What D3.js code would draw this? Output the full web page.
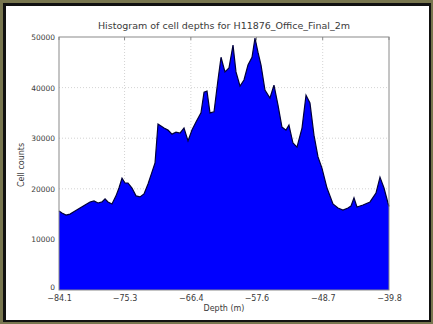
<!DOCTYPE html>
<meta charset="utf-8">
<style>
  body { margin: 0; background: #fff; }
  text { font-family: "DejaVu Sans", sans-serif; fill: #3a3a3a; }
</style>
<svg width="433" height="324"></svg>
<script src="https://cdn.jsdelivr.net/npm/d3@7"></script>
<script>

// depth (m) of each histogram point
var depths = [-84.1, -83.7, -83.16, -82.62, -81.95, -81.28, -80.61, -79.94, -79.4, -78.86,
  -78.33, -77.92, -77.52, -76.99, -76.45, -76.05, -75.64, -75.24, -74.84, -74.3,
  -73.76, -73.23, -72.69, -72.15, -71.62, -71.21, -70.81, -70.41, -70.0, -69.47,
  -68.93, -68.39, -67.86, -67.32, -66.78, -66.25, -65.71, -65.04, -64.63, -64.23,
  -63.83, -63.29, -62.76, -62.35, -61.82, -61.28, -60.74, -60.34, -59.8, -59.27,
  -58.73, -58.19, -57.79, -57.39, -56.98, -56.45, -55.78, -55.24, -54.7, -54.17,
  -53.63, -53.23, -52.69, -52.15, -51.48, -50.94, -50.41, -49.87, -49.33, -48.8,
  -48.12, -47.32, -46.65, -45.98, -45.31, -44.9, -44.5, -44.1, -43.29, -42.35,
  -41.55, -41.01, -40.47, -39.94, -39.8];

// cell counts at those depths
var counts = [15600, 15200, 14800, 15000, 15600, 16200, 16800, 17400, 17600, 17200,
  17400, 18000, 17400, 17000, 18600, 20150, 22100, 21150, 21150, 20150,
  18600, 18400, 19000, 20950, 23300, 25100, 32800, 32400, 32000, 31600,
  30800, 31200, 31000, 32000, 29450, 31600, 33200, 35000, 39100, 39300,
  35000, 35200, 41500, 46000, 43100, 43900, 48400, 43100, 40300, 41500,
  44450, 46000, 49800, 47000, 44450, 39500, 37950, 40500, 36550, 32200,
  31600, 32600, 29050, 28250, 32000, 38500, 36950, 30600, 26300, 24100,
  20150, 17000, 16200, 15800, 16200, 16600, 18200, 16400, 16800, 17400,
  19150, 22300, 20150, 17200, 16500];

var xTicks = [-84.1, -75.3, -66.4, -57.6, -48.7, -39.8];
var yTicks = [0, 10000, 20000, 30000, 40000, 50000];

var title = "Histogram of cell depths for H11876_Office_Final_2m";
var xLabel = "Depth (m)";
var yLabel = "Cell counts";

var svg = d3.select("svg"),
    width = +svg.attr("width"),
    height = +svg.attr("height");

// picture frame
svg.append("rect").attr("width", width).attr("height", height).attr("fill", "#78764f");
svg.append("rect").attr("x", 3).attr("y", 3).attr("width", width - 5).attr("height", height - 5).attr("fill", "#111");
svg.append("rect").attr("x", 6).attr("y", 6).attr("width", width - 10).attr("height", height - 10).attr("fill", "#fff");

var x = d3.scaleLinear().domain([-84.1, -39.8]).range([59, 389]);
var y = d3.scaleLinear().domain([0, 50000]).range([290, 37]);

var data = depths.map(function(d, i) { return [d, counts[i]]; });

// grid
var grid = svg.append("g").attr("stroke", "#c8c8c8").attr("stroke-dasharray", "1,2").attr("stroke-width", 0.8);
grid.selectAll(".vx").data(xTicks.slice(1, -1)).enter().append("line")
    .attr("x1", function(d) { return x(d); }).attr("x2", function(d) { return x(d); })
    .attr("y1", y(0)).attr("y2", y(50000));
grid.selectAll(".hy").data(yTicks.slice(1, -1)).enter().append("line")
    .attr("y1", function(d) { return y(d); }).attr("y2", function(d) { return y(d); })
    .attr("x1", x(-84.1)).attr("x2", x(-39.8));

var area = d3.area()
    .x(function(d) { return x(d[0]); })
    .y0(y(0))
    .y1(function(d) { return y(d[1]); });

svg.append("path").datum(data).attr("d", area).attr("fill", "#0000ff");

svg.append("path").datum(data)
    .attr("d", d3.line().x(function(d) { return x(d[0]); }).y(function(d) { return y(d[1]); }))
    .attr("fill", "none").attr("stroke", "#00003a").attr("stroke-width", 1.2);

// axes box
svg.append("rect")
    .attr("x", x(-84.1)).attr("y", y(50000))
    .attr("width", x(-39.8) - x(-84.1)).attr("height", y(0) - y(50000))
    .attr("fill", "none").attr("stroke", "#8a8a8a").attr("stroke-width", 1);

var xAxis = svg.append("g").attr("transform", "translate(0," + y(0) + ")")
    .call(d3.axisBottom(x).tickValues(xTicks).tickSize(0).tickPadding(5)
      .tickFormat(function(d) { return d3.format(".1f")(d); }));
xAxis.select(".domain").remove();
xAxis.selectAll("text").attr("font-size", 8).attr("fill", "#3a3a3a");

var yAxis = svg.append("g").attr("transform", "translate(" + x(-84.1) + ",0)")
    .call(d3.axisLeft(y).tickValues(yTicks).tickSize(0).tickPadding(4).tickFormat(d3.format("d")));
yAxis.select(".domain").remove();
yAxis.selectAll("text").attr("font-size", 7.5).attr("fill", "#3a3a3a");
// lift the "0" label a little so it clears the first depth label
yAxis.selectAll(".tick").filter(function(d) { return d === 0; }).select("text").attr("dy", "-0.1em");

// small inward ticks
svg.append("g").selectAll("line").data(xTicks).enter().append("line")
    .attr("x1", function(d) { return x(d); }).attr("x2", function(d) { return x(d); })
    .attr("y1", y(50000)).attr("y2", y(50000) + 3).attr("stroke", "#888");

svg.append("text").attr("x", 224).attr("y", 29).attr("text-anchor", "middle")
    .attr("font-size", 9.5).text(title);
svg.append("text").attr("x", 224).attr("y", 311).attr("text-anchor", "middle")
    .attr("font-size", 8).text(xLabel);
svg.append("text").attr("transform", "translate(24,165) rotate(-90)").attr("text-anchor", "middle")
    .attr("font-size", 8).text(yLabel);

</script>
